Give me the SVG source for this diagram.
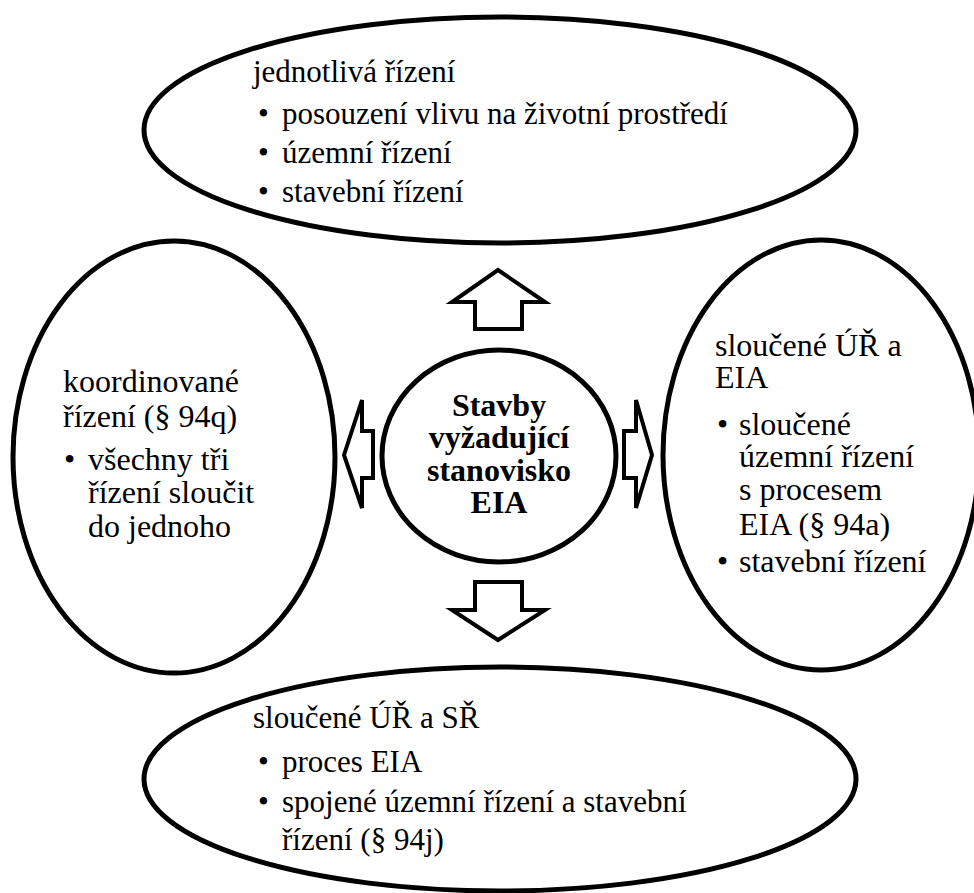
<svg xmlns="http://www.w3.org/2000/svg" width="974" height="893" viewBox="0 0 974 893" font-family="'Liberation Serif', 'Times New Roman', Tinos, 'DejaVu Serif', serif">
<style>
.node{fill:#fff;stroke:#000;stroke-width:5}
.arr{fill:#fff;stroke:#000;stroke-width:4;stroke-linejoin:miter}
text{font-family:'Liberation Serif','Times New Roman',Tinos,'DejaVu Serif',serif;fill:#000}
.t{font-size:31px}
.ts{font-size:32px}
.c{font-size:32px;font-weight:bold;text-anchor:middle}
</style>
<rect width="974" height="893" fill="#fff"/>
<g id="top-node">
<ellipse class="node" cx="500" cy="130" rx="356" ry="113"/>
<text class="t" x="253" y="82">jednotlivá řízení</text>
<text class="t"><tspan x="258" y="124">•</tspan><tspan x="282" y="124">posouzení vlivu na životní prostředí</tspan></text>
<text class="t"><tspan x="258" y="163">•</tspan><tspan x="282" y="163">územní řízení</tspan></text>
<text class="t"><tspan x="258" y="202">•</tspan><tspan x="282" y="202">stavební řízení</tspan></text>
</g>
<g id="left-node">
<ellipse class="node" cx="174" cy="457" rx="161" ry="216"/>
<text class="ts" x="63" y="392">koordinované</text>
<text class="ts" x="63" y="427">řízení (§ 94q)</text>
<text class="ts"><tspan x="64" y="470">•</tspan><tspan x="88" y="470">všechny tři</tspan></text>
<text class="ts" x="88" y="503">řízení sloučit</text>
<text class="ts" x="88" y="537">do jednoho</text>
</g>
<g id="right-node">
<ellipse class="node" cx="821" cy="455" rx="158" ry="215"/>
<text class="ts" x="715" y="356">sloučené ÚŘ a</text>
<text class="ts" x="715" y="388">EIA</text>
<text class="ts"><tspan x="717" y="435">•</tspan><tspan x="739" y="435">sloučené</tspan></text>
<text class="ts" x="739" y="467">územní řízení</text>
<text class="ts" x="739" y="500">s procesem</text>
<text class="ts" x="739" y="535">EIA (§ 94a)</text>
<text class="ts"><tspan x="717" y="572">•</tspan><tspan x="739" y="572">stavební řízení</tspan></text>
</g>
<g id="bottom-node">
<ellipse class="node" cx="500" cy="779" rx="356" ry="112"/>
<text class="t" x="253" y="728">sloučené ÚŘ a SŘ</text>
<text class="t"><tspan x="258" y="772">•</tspan><tspan x="282" y="772">proces EIA</tspan></text>
<text class="t"><tspan x="258" y="812">•</tspan><tspan x="282" y="812">spojené územní řízení a stavební</tspan></text>
<text class="t" x="282" y="850">řízení (§ 94j)</text>
</g>
<g id="center-node">
<ellipse class="node" cx="499" cy="456" rx="117" ry="106"/>
<text class="c" x="499" y="416">Stavby</text>
<text class="c" x="499" y="448">vyžadující</text>
<text class="c" x="499" y="481">stanovisko</text>
<text class="c" x="499" y="513">EIA</text>
</g>
<g id="connectors">
<polygon class="arr" points="498,270 545,302 522,302 522,329 475,329 475,302 452,302"/>
<polygon class="arr" points="475,582 522,582 522,610 545,610 498,640 452,610 475,610"/>
<polygon class="arr" points="344,455 362,400 362,431 373,431 373,478 362,478 362,508"/>
<polygon class="arr" points="652,455 636,400 636,431 624,431 624,478 636,478 636,508"/>
</g>
</svg>
